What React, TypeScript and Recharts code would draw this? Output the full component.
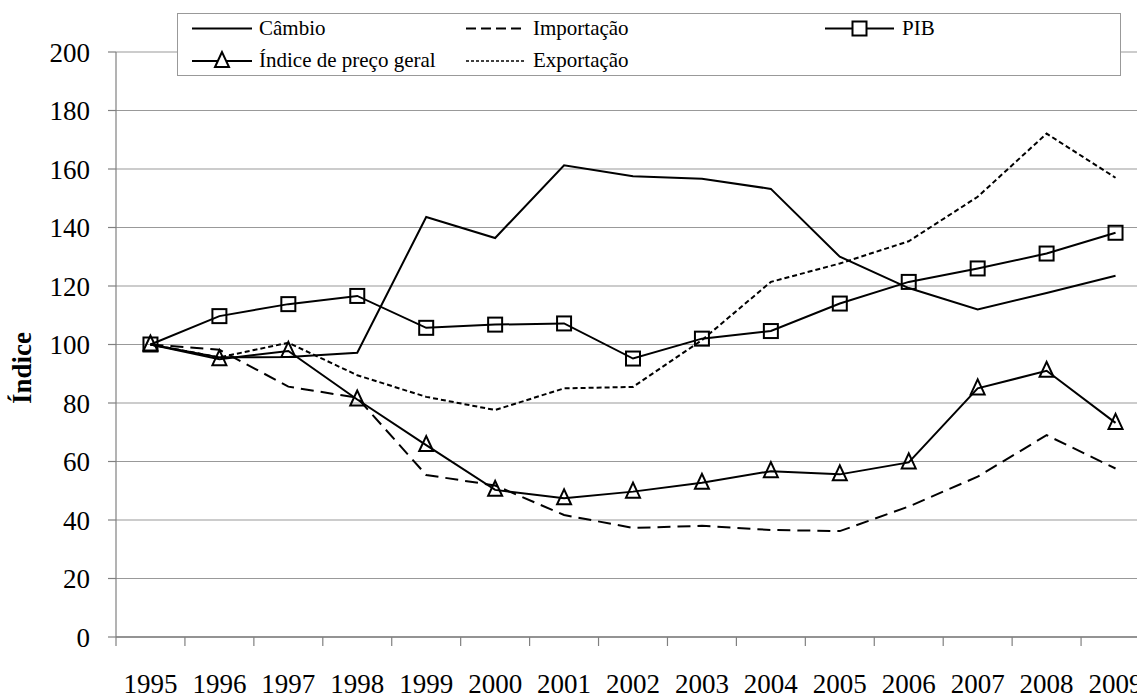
import { LineChart, Line, XAxis, YAxis, CartesianGrid, Legend, Label } from "recharts";

const years = ["1995", "1996", "1997", "1998", "1999", "2000", "2001", "2002", "2003", "2004", "2005", "2006", "2007", "2008", "2009"];

const cambio = [100, 95.6, 95.7, 97.2, 143.6, 136.4, 161.3, 157.5, 156.7, 153.2, 130, 119.3, 112, 117.6, 123.5];
const importacao = [100, 98.2, 85.6, 81.8, 55.4, 51.8, 41.7, 37.3, 38, 36.6, 36.2, 44.6, 54.8, 69, 57.6];
const pib = [100, 109.7, 113.8, 116.6, 105.7, 106.8, 107.2, 95.2, 102, 104.6, 114, 121.4, 126, 131.1, 138.2];
const indicePreco = [100, 95, 97.8, 81.2, 65.6, 50.3, 47.4, 49.7, 52.7, 56.7, 55.6, 59.7, 85, 91, 73.2];
const exportacao = [100, 95.6, 100.6, 89.5, 82.1, 77.6, 85, 85.5, 101.5, 121.4, 127.7, 135.3, 150.5, 172.1, 157];

const yTicks = [0, 20, 40, 60, 80, 100, 120, 140, 160, 180, 200];

const data = years.map((year, i) => ({
  year,
  cambio: cambio[i],
  importacao: importacao[i],
  pib: pib[i],
  indice: indicePreco[i],
  exportacao: exportacao[i],
}));

const FONT = "Liberation Serif, Times New Roman, Tinos, serif";

const SquareDot = (props: any) => {
  const { cx, cy, index } = props;
  if (cx == null || cy == null) return <g key={`sq-${index}`} />;
  return <rect key={`sq-${index}`} x={cx - 7} y={cy - 7} width={14} height={14} fill="none" stroke="#000" strokeWidth={2} />;
};

const TriangleDot = (props: any) => {
  const { cx, cy, index } = props;
  if (cx == null || cy == null) return <g key={`tr-${index}`} />;
  return (
    <polygon
      key={`tr-${index}`}
      points={`${cx},${cy - 9} ${cx - 7},${cy + 6} ${cx + 7},${cy + 6}`}
      fill="none"
      stroke="#000"
      strokeWidth={2}
    />
  );
};

const XTick = (props: any) => {
  const { x, y, payload } = props;
  const off = payload && payload.offset ? payload.offset : 0;
  return (
    <g>
      <line x1={x - off} x2={x - off} y1={y} y2={y + 9} stroke="#808080" strokeWidth={1.2} />
      <text x={x} y={y + 56} textAnchor="middle" style={{ fontFamily: FONT, fontSize: 27 }} fill="#000">
        {payload.value}
      </text>
    </g>
  );
};

// legend box drawn by hand, sits on top of the plot like in the original
const LegendBox = () => {
  const label = (left: number, top: number, text: string) => (
    <span style={{ position: "absolute", left, top, fontFamily: FONT, fontSize: 21, lineHeight: "24px", color: "#000", whiteSpace: "nowrap" }}>
      {text}
    </span>
  );
  return (
    <div style={{ position: "relative", width: 944, height: 63, border: "1px solid #999", background: "#fff", boxSizing: "border-box" }}>
      <svg width={944} height={63} style={{ position: "absolute", left: 0, top: 0 }}>
        <line x1={14} x2={74} y1={14.5} y2={14.5} stroke="#000" strokeWidth={2} />
        <line x1={14} x2={74} y1={47} y2={47} stroke="#000" strokeWidth={2} />
        <polygon points="44,38 37,53 51,53" fill="#fff" stroke="#000" strokeWidth={2} />
        <line x1={288} x2={346} y1={14.5} y2={14.5} stroke="#000" strokeWidth={2} strokeDasharray="10 5" />
        <line x1={288} x2={346} y1={47} y2={47} stroke="#000" strokeWidth={1.5} strokeDasharray="3 2" />
        <line x1={647} x2={716} y1={14.5} y2={14.5} stroke="#000" strokeWidth={2} />
        <rect x={674.5} y={7.5} width={14} height={14} fill="#fff" stroke="#000" strokeWidth={2} />
      </svg>
      {label(81, 2, "Câmbio")}
      {label(81, 34, "Índice de preço geral")}
      {label(355, 2, "Importação")}
      {label(355, 34, "Exportação")}
      {label(724, 2, "PIB")}
    </div>
  );
};

export default function App() {
  return (
    <div style={{ position: "fixed", left: 0, top: 0, width: 1137, height: 698, overflow: "hidden", background: "#fff" }}>
      <LineChart width={1160} height={698} data={data} margin={{ top: 52, right: 10, left: 56, bottom: 0 }}>
        <CartesianGrid vertical={false} stroke="#999" strokeWidth={1.2} />
        <XAxis
          dataKey="year"
          scale="band"
          interval={0}
          height={61}
          tickLine={false}
          tickSize={0}
          tickMargin={0}
          axisLine={{ stroke: "#808080", strokeWidth: 1.5 }}
          tick={<XTick />}
        />
        <YAxis
          width={60}
          domain={[0, 200]}
          ticks={yTicks}
          interval={0}
          tickSize={8}
          tickMargin={18}
          axisLine={{ stroke: "#808080", strokeWidth: 1.2 }}
          tickLine={{ stroke: "#808080", strokeWidth: 1.2 }}
          tick={{ style: { fontFamily: FONT, fontSize: 27 }, fill: "#000" }}
        >
          <Label
            content={() => (
              <text transform="translate(31,368) rotate(-90)" textAnchor="middle" style={{ fontFamily: FONT, fontSize: 27, fontWeight: "bold" }} fill="#000">
                Índice
              </text>
            )}
          />
        </YAxis>
        <Legend
          layout="horizontal"
          verticalAlign="middle"
          align="center"
          content={<LegendBox />}
          wrapperStyle={{ left: 177, top: 13, width: 944, height: 63 }}
        />
        <Line type="linear" dataKey="cambio" stroke="#000" strokeWidth={2} dot={false} isAnimationActive={false} />
        <Line type="linear" dataKey="importacao" stroke="#000" strokeWidth={2} strokeDasharray="13 7" dot={false} isAnimationActive={false} />
        <Line type="linear" dataKey="exportacao" stroke="#000" strokeWidth={2} strokeDasharray="5 3" dot={false} isAnimationActive={false} />
        <Line type="linear" dataKey="indice" stroke="#000" strokeWidth={2} dot={<TriangleDot />} isAnimationActive={false} />
        <Line type="linear" dataKey="pib" stroke="#000" strokeWidth={2} dot={<SquareDot />} isAnimationActive={false} />
      </LineChart>
    </div>
  );
}
